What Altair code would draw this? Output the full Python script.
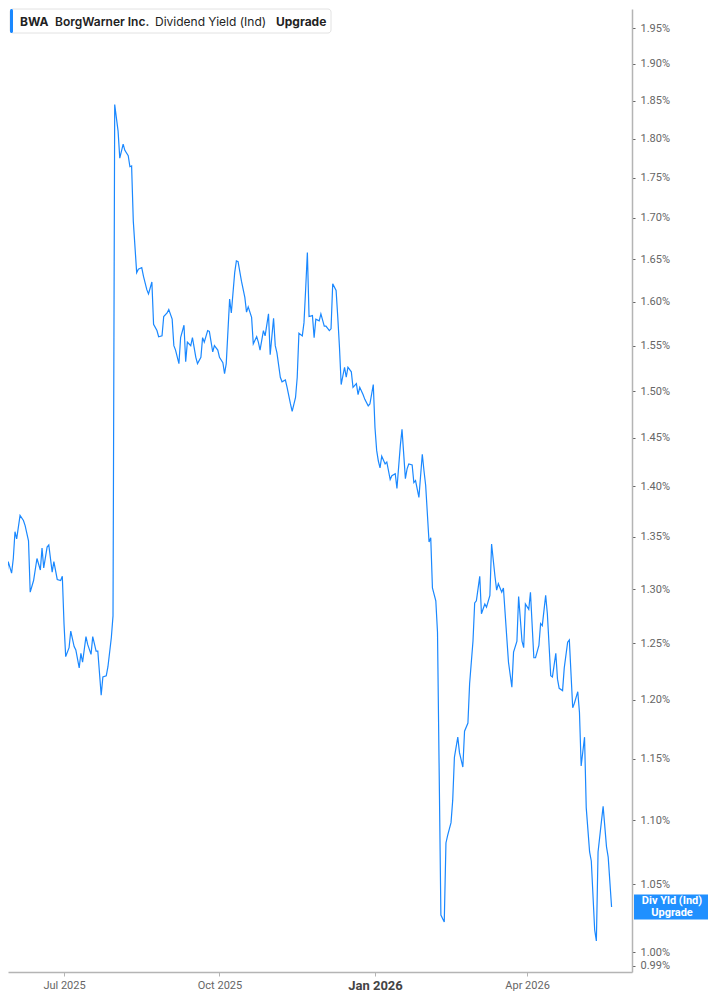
import altair as alt
import pandas as pd

START = "2025-05-24"

day_offsets = [
    0, 1, 2, 4, 5, 7, 8, 9, 10, 12,
    14, 15, 17, 18, 20, 22, 24, 25, 26, 28,
    29, 31, 32, 34, 36, 37, 38, 39, 41, 42,
    44, 45, 47, 48, 49, 51, 52, 54, 55, 57,
    58, 60, 61, 63, 64, 66, 67, 68, 70, 71,
    73, 74, 76, 77, 78, 79, 81, 82, 84, 85,
    87, 88, 90, 91, 93, 94, 96, 97, 99, 100,
    102, 103, 104, 106, 107, 109, 110, 111, 113, 114,
    116, 117, 119, 120, 121, 123, 124, 126, 127, 129,
    130, 132, 133, 134, 136, 137, 139, 140, 141, 143,
    145, 146, 147, 149, 150, 152, 153, 154, 156, 157,
    159, 160, 162, 163, 164, 166, 167, 169, 170, 172,
    173, 175, 176, 177, 179, 180, 181, 182, 183, 185,
    186, 187, 189, 190, 192, 193, 195, 196, 197, 199,
    200, 201, 202, 204, 205, 206, 208, 209, 211, 212,
    213, 215, 216, 218, 219, 221, 222, 223, 224, 225,
    226, 228, 229, 231, 232, 234, 235, 237, 238, 240,
    241, 242, 244, 245, 246, 248, 250, 251, 252, 254,
    255, 256, 258, 259, 261, 263, 264, 265, 267, 268,
    269, 271, 272, 274, 275, 277, 278, 280, 281, 282,
    284, 285, 287, 288, 290, 291, 293, 294, 295, 297,
    298, 300, 301, 303, 304, 306, 307, 309, 310, 311,
    313, 314, 316, 317, 319, 320, 321, 323, 324, 326,
    327, 329, 330, 331, 333, 334, 336, 337, 339, 340,
    342, 343, 344, 346, 347, 349, 350, 352, 353, 354,
    356, 357, 359, 360, 362,
]

div_yield = [
    1.340, 1.335, 1.344, 1.309, 1.326, 1.315, 1.329, 1.355, 1.348, 1.371,
    1.366, 1.361, 1.346, 1.297, 1.308, 1.329, 1.318, 1.339, 1.320, 1.340,
    1.342, 1.316, 1.326, 1.309, 1.308, 1.312, 1.268, 1.238, 1.246, 1.261,
    1.247, 1.244, 1.228, 1.241, 1.233, 1.256, 1.249, 1.240, 1.256, 1.243,
    1.243, 1.204, 1.220, 1.221, 1.229, 1.255, 1.275, 1.845, 1.810, 1.775,
    1.793, 1.785, 1.778, 1.764, 1.765, 1.696, 1.634, 1.638, 1.640, 1.630,
    1.614, 1.609, 1.623, 1.574, 1.567, 1.560, 1.561, 1.583, 1.587, 1.591,
    1.580, 1.550, 1.545, 1.530, 1.559, 1.573, 1.532, 1.554, 1.550, 1.559,
    1.537, 1.530, 1.537, 1.559, 1.554, 1.567, 1.566, 1.543, 1.550, 1.545,
    1.537, 1.531, 1.519, 1.530, 1.603, 1.587, 1.634, 1.648, 1.647, 1.624,
    1.605, 1.588, 1.594, 1.582, 1.552, 1.560, 1.554, 1.545, 1.567, 1.561,
    1.586, 1.540, 1.581, 1.550, 1.542, 1.515, 1.510, 1.512, 1.504, 1.486,
    1.478, 1.493, 1.515, 1.564, 1.561, 1.576, 1.615, 1.658, 1.583, 1.584,
    1.559, 1.580, 1.578, 1.586, 1.572, 1.572, 1.567, 1.569, 1.621, 1.613,
    1.582, 1.548, 1.507, 1.526, 1.515, 1.526, 1.521, 1.504, 1.508, 1.496,
    1.504, 1.496, 1.491, 1.484, 1.486, 1.507, 1.461, 1.437, 1.426, 1.419,
    1.431, 1.423, 1.425, 1.407, 1.411, 1.413, 1.398, 1.442, 1.459, 1.408,
    1.418, 1.423, 1.422, 1.404, 1.406, 1.389, 1.433, 1.416, 1.401, 1.345,
    1.349, 1.301, 1.289, 1.260, 1.027, 1.022, 1.082, 1.088, 1.098, 1.116,
    1.151, 1.168, 1.155, 1.143, 1.173, 1.180, 1.214, 1.252, 1.287, 1.289,
    1.312, 1.277, 1.286, 1.283, 1.294, 1.343, 1.312, 1.299, 1.305, 1.297,
    1.301, 1.255, 1.233, 1.211, 1.242, 1.252, 1.293, 1.252, 1.246, 1.286,
    1.281, 1.297, 1.237, 1.237, 1.248, 1.268, 1.266, 1.294, 1.277, 1.221,
    1.220, 1.241, 1.218, 1.210, 1.208, 1.228, 1.251, 1.253, 1.193, 1.197,
    1.207, 1.189, 1.144, 1.168, 1.110, 1.075, 1.068, 1.016, 1.008, 1.075,
    1.099, 1.111, 1.079, 1.071, 1.033,
]

y_ticks = [0.99, 1.00, 1.05, 1.10, 1.15, 1.20, 1.25, 1.30, 1.35, 1.40,
           1.45, 1.50, 1.55, 1.60, 1.65, 1.70, 1.75, 1.80, 1.85, 1.90, 1.95]
x_tick_dates = [(2025, 7), (2025, 10), (2026, 1), (2026, 4)]

legend_parts = [("BWA", 12, "bold"), ("BorgWarner Inc.", 47, 600),
                ("Dividend Yield (Ind)", 147, "normal"), ("Upgrade", 268, "bold")]
end_label = ["Div Yld (Ind)", "Upgrade"]

BLUE = "#1a88ff"

dates = pd.Timestamp(START) + pd.to_timedelta(day_offsets, unit="D")
df = pd.DataFrame({"date": dates, "value": div_yield})
last = df.tail(1)
dummy = pd.DataFrame({"k": [0]})

x_scale = alt.Scale(domain=[alt.DateTime(year=2025, month=5, date=28, hours=20, minutes=45),
                            alt.DateTime(year=2026, month=6, date=2, hours=2)])
y_scale = alt.Scale(type="log", domain=[0.98565, 1.977], nice=False, zero=False)

x_axis = alt.Axis(
    values=[alt.DateTime(year=y, month=m, date=1) for y, m in x_tick_dates],
    format="%b %Y", title=None, grid=False,
    domainColor="#b4b4b4", domainWidth=1.5,
    tickColor="#b4b4b4", tickSize=4, tickWidth=1,
    labelFont="Roboto", labelPadding=3,
    labelFontSize={"condition": {"test": "month(datum.value) == 0", "value": 13}, "value": 11},
    labelFontWeight={"condition": {"test": "month(datum.value) == 0", "value": "bold"}, "value": "normal"},
    labelColor={"condition": {"test": "month(datum.value) == 0", "value": "#444444"}, "value": "#666666"},
)
y_axis = alt.Axis(
    orient="right", values=y_ticks, title=None, grid=False,
    labelExpr="format(datum.value, '.2f') + '%'",
    domainColor="#b4b4b4", domainWidth=1.5,
    tickColor="#666666", tickSize=3, tickWidth=1,
    labelFont="Roboto", labelFontSize=11, labelColor="#666666",
    labelPadding=5, labelOverlap=False,
)

line = alt.Chart(df).mark_line(color=BLUE, strokeWidth=1.2, clip=True).encode(
    x=alt.X("date:T", scale=x_scale, axis=x_axis),
    y=alt.Y("value:Q", scale=y_scale, axis=y_axis),
)

end_box = alt.Chart(last).mark_rect(color="#2090ff", height=25).encode(
    x=alt.value({"expr": "width + 2"}), x2=alt.value({"expr": "width + 76"}),
    y=alt.Y("value:Q", scale=y_scale),
)
end_text = alt.Chart(last).mark_text(
    color="white", font="Roboto", fontSize=11, fontWeight="bold",
    align="center", baseline="middle", lineHeight=12, dy=-6,
).encode(
    x=alt.value({"expr": "width + 40"}), y=alt.Y("value:Q", scale=y_scale),
    text=alt.value(end_label),
)

legend_box = alt.Chart(dummy).mark_rect(
    fill="white", stroke="#e2e2e2", strokeWidth=1, cornerRadius=3,
).encode(x=alt.value(2), x2=alt.value(323), y=alt.value(0), y2=alt.value(24))
legend_bar = alt.Chart(dummy).mark_rect(color=BLUE, cornerRadius=1.5).encode(
    x=alt.value(2), x2=alt.value(5), y=alt.value(0), y2=alt.value(24))

legend_texts = [
    alt.Chart(dummy).mark_text(
        font="Inter", fontSize=12, fontWeight=wt, color="#222222",
        align="left", baseline="middle",
    ).encode(x=alt.value(px), y=alt.value(12.5), text=alt.value(txt))
    for txt, px, wt in legend_parts
]

chart = alt.layer(line, end_box, end_text, legend_box, legend_bar, *legend_texts).properties(
    width=700, height=984,
    padding=0,
    autosize=alt.AutoSizeParams(type="fit", contains="padding"),
    background="white",
).configure_view(stroke=None)

chart.save("out.html", embed_options={"renderer": "svg", "actions": False})
